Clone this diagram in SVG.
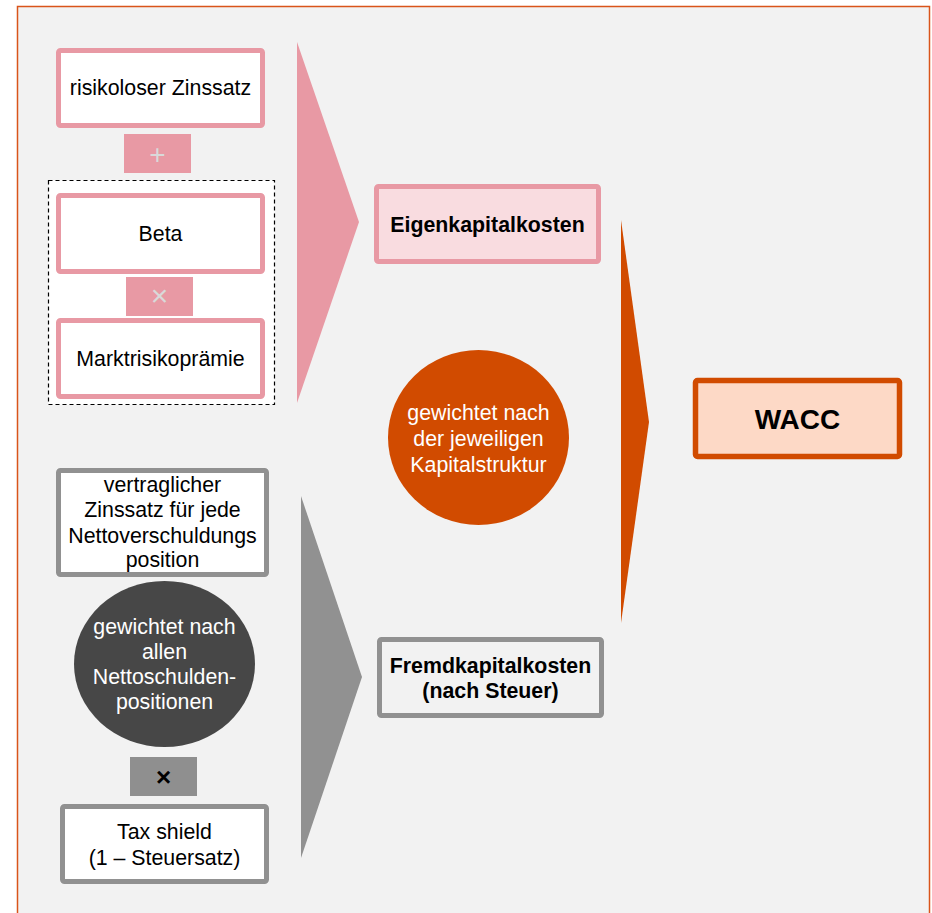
<svg xmlns="http://www.w3.org/2000/svg" width="932" height="913" viewBox="0 0 932 913">
<style>
text{font-family:"Liberation Sans",Arial,sans-serif;font-size:21.33px;text-anchor:middle;fill:#000}
.b{font-weight:bold}
.w{fill:#fff}
.pk{fill:#fff;stroke:#e899a4;stroke-width:5}
.gy{fill:#fff;stroke:#919191;stroke-width:5}
</style>
<rect x="0" y="0" width="932" height="913" fill="#ffffff"/>
<rect x="17.5" y="6.5" width="912" height="920" fill="#f2f2f2" stroke="#d9541a" stroke-width="1.5"/>
<g id="connectors">
<polygon points="297,42 359,222 297,403" fill="#e899a4"/>
<polygon points="301,496 362,677 301,858" fill="#919191"/>
<polygon points="621,220 649,422 621,623" fill="#d14b00"/>
</g>
<g id="group-ek">
<rect x="48.5" y="180.5" width="226" height="224" fill="#fff" stroke="#000" stroke-width="1.2" stroke-dasharray="4,3"/>
</g>
<g id="risikoloser">
<rect class="pk" x="58.5" y="50.5" width="204" height="75" rx="2"/>
<text x="160.5" y="95">risikoloser Zinssatz</text>
</g>
<g id="plus">
<rect x="124" y="134" width="67" height="39" fill="#e899a4"/>
<text x="157.5" y="164" style="fill:#d9d9d9;font-size:28px">+</text>
</g>
<g id="beta">
<rect class="pk" x="58.5" y="195.5" width="204" height="76" rx="2"/>
<text x="160.5" y="241">Beta</text>
</g>
<g id="mal1">
<rect x="126" y="277" width="67" height="39" fill="#e899a4"/>
<text x="159.5" y="306" style="fill:#d9d9d9;font-size:30px">×</text>
</g>
<g id="marktrisiko">
<rect class="pk" x="58.5" y="320.5" width="204" height="76" rx="2"/>
<text x="160.5" y="366">Marktrisikoprämie</text>
</g>
<g id="eigenkapitalkosten">
<rect x="376.5" y="186.5" width="222" height="75" rx="2" fill="#f9dce0" stroke="#e899a4" stroke-width="5"/>
<text class="b" x="487.5" y="232">Eigenkapitalkosten</text>
</g>
<g id="gewichtet-kapital">
<ellipse cx="478.5" cy="437.5" rx="90.5" ry="87.5" fill="#d14b00"/>
<text class="w" x="478.5" y="420">gewichtet nach</text>
<text class="w" x="478.5" y="446">der jeweiligen</text>
<text class="w" x="478.5" y="472">Kapitalstruktur</text>
</g>
<g id="wacc">
<rect x="695.5" y="380.5" width="204" height="76" rx="2" fill="#fdd9c6" stroke="#d14b00" stroke-width="5.5"/>
<text class="b" x="797.5" y="429" style="font-size:28px">WACC</text>
</g>
<g id="vertraglich">
<rect class="gy" x="58.5" y="470.5" width="208" height="104" rx="2"/>
<text x="162.5" y="492">vertraglicher</text>
<text x="162.5" y="517">Zinssatz für jede</text>
<text x="162.5" y="543">Nettoverschuldungs</text>
<text x="162.5" y="567">position</text>
</g>
<g id="gewichtet-schulden">
<ellipse cx="164.5" cy="664" rx="90.5" ry="83" fill="#474747"/>
<text class="w" x="164.5" y="634">gewichtet nach</text>
<text class="w" x="164.5" y="659">allen</text>
<text class="w" x="164.5" y="684">Nettoschulden-</text>
<text class="w" x="164.5" y="709">positionen</text>
</g>
<g id="mal2">
<rect x="130" y="757" width="67" height="39" fill="#8f8f8f"/>
<text class="b" x="163.5" y="786" style="font-size:26px">×</text>
</g>
<g id="taxshield">
<rect class="gy" x="62.5" y="806.5" width="204" height="75" rx="2"/>
<text x="164.5" y="839">Tax shield</text>
<text x="164.5" y="865">(1 – Steuersatz)</text>
</g>
<g id="fremdkapitalkosten">
<rect x="379.5" y="639.5" width="222" height="76" rx="2" fill="#f2f2f2" stroke="#919191" stroke-width="5"/>
<text class="b" x="490.5" y="673">Fremdkapitalkosten</text>
<text class="b" x="490.5" y="698">(nach Steuer)</text>
</g>
</svg>
